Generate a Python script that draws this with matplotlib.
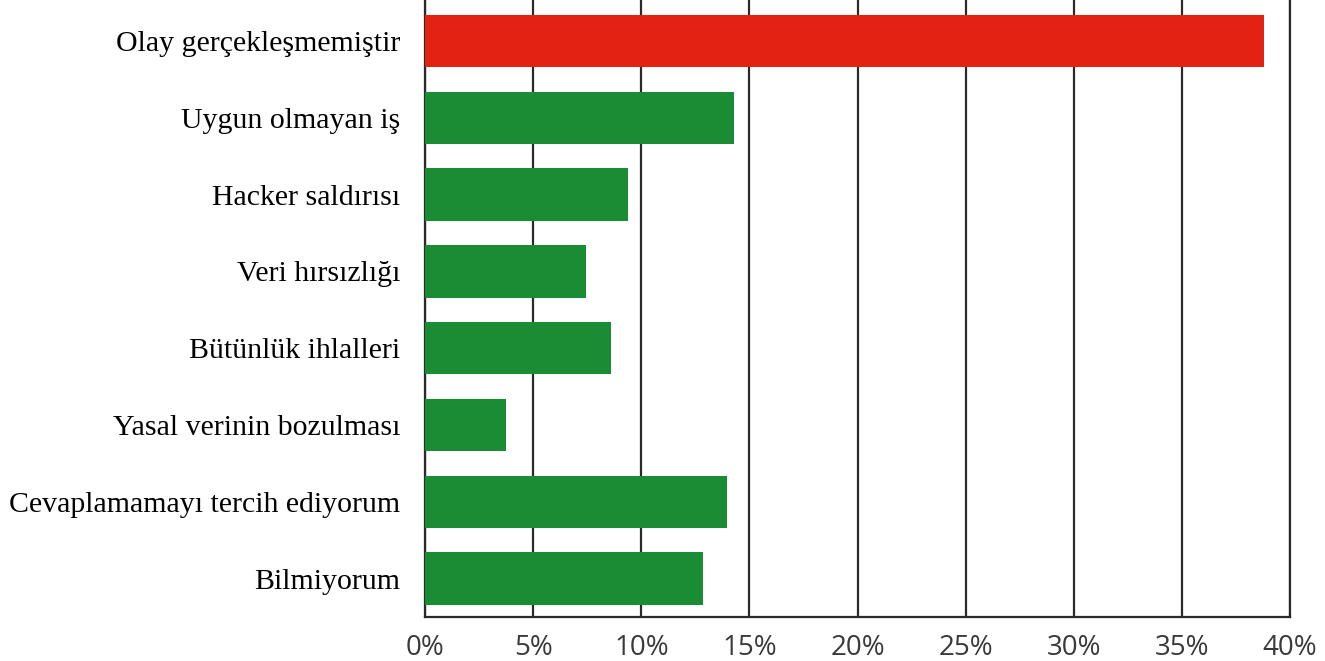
import matplotlib
matplotlib.use('Agg')
import matplotlib.pyplot as plt
import matplotlib.ticker as ticker

# veriler
kategoriler = ['Olay gerçekleşmemiştir', 'Uygun olmayan iş', 'Hacker saldırısı',
               'Veri hırsızlığı', 'Bütünlük ihlalleri', 'Yasal verinin bozulması',
               'Cevaplamamayı tercih ediyorum', 'Bilmiyorum']
oranlar = [38.8, 14.3, 9.4, 7.45, 8.6, 3.75, 13.95, 12.85]
renkler = ['#E32212'] + ['#1A8C33'] * 7
x_ticks = [0, 5, 10, 15, 20, 25, 30, 35, 40]

fig = plt.figure(figsize=(13.25, 6.61), dpi=100)
ax = fig.add_axes([0.3208, 0.0666, 0.6528, 0.9334])

pos = list(range(len(kategoriler)))
ax.barh(pos, oranlar, height=0.68, color=renkler, zorder=3)

ax.set_xlim(0, 40)
ax.set_ylim(7.5, -0.534)
ax.set_xticks(x_ticks)
ax.xaxis.set_major_formatter(ticker.FuncFormatter(lambda v, p: f'{v:.0f}%'))
ax.set_yticks(pos)
ax.set_yticklabels(kategoriler, family='Liberation Serif', fontsize=21.5, color='black')
ax.tick_params(axis='y', length=0, pad=18)
ax.tick_params(axis='x', length=0, pad=12, labelsize=20, labelcolor='#3a3a3a')
for lbl in ax.get_xticklabels():
    lbl.set_family('Open Sans')

ax.grid(axis='x', color='#2a2a2a', linewidth=1.6, zorder=1)
ax.spines['top'].set_visible(False)
for s in ['left', 'right', 'bottom']:
    ax.spines[s].set_color('#2a2a2a')
    ax.spines[s].set_linewidth(1.6)

fig.savefig('out.png', dpi=100, facecolor='white')
